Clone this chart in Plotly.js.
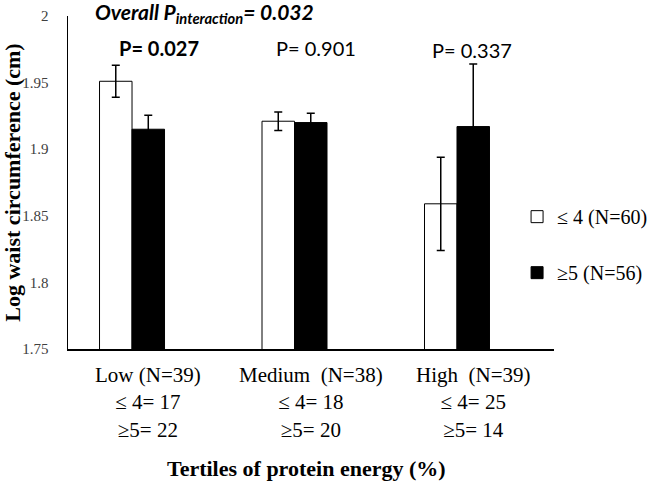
<!DOCTYPE html>
<html><head><meta charset="utf-8">
<script src="https://cdn.plot.ly/plotly-3.0.1.min.js"></script>
<style>html,body{margin:0;padding:0;background:#fff}</style>
</head><body><div id="chart" style="width:652px;height:484px"></div>
<script>
const categories = ["Low (N=39)", "Medium\u00a0 (N=38)", "High\u00a0 (N=39)"];
const countLow = ["≤ 4= 17", "≤ 4= 18", "≤ 4= 25"];
const countHigh = ["≥5= 22", "≥5= 20", "≥5= 14"];
const seriesNames = ["≤ 4 (N=60)", "≥5 (N=56)"];
const lowMeans = [1.951, 1.921, 1.859];
const lowErrors = [0.012, 0.007, 0.035];
const highMeans = [1.915, 1.920, 1.917];
const highErrors = [0.0105, 0.007, 0.047];
const pValues = ["P= 0.027", "P= 0.901", "P= 0.337"];
const pBold = [true, false, false];
const yTicks = [1.75, 1.8, 1.85, 1.9, 1.95, 2];
const interactionP = "0.032";

const xs = categories.map((c, i) => i);
const serif = "Liberation Serif, Times New Roman, serif";
const sans = "Lato, Open Sans, sans-serif";

const traces = [
  {type: "bar", x: xs, y: lowMeans, name: seriesNames[0], legendgroup: "a",
   marker: {color: "#ffffff", line: {color: "#000000", width: 1}},
   error_y: {type: "data", array: lowErrors, visible: true, color: "#000000", thickness: 1.5, width: 4}},
  {type: "bar", x: xs, y: highMeans, name: seriesNames[1], legendgroup: "b",
   marker: {color: "#000000", line: {color: "#000000", width: 1}},
   error_y: {type: "data", array: highErrors, visible: true, color: "#000000", thickness: 1.5, width: 4}}
];

const annotations = [];
const pOffsets = [0.165, 0.13, 0.095];
const pY = [0.905, 0.905, 0.899];
pValues.forEach((p, i) => {
  annotations.push({xref: "x", yref: "paper", x: xs[i] + pOffsets[i], y: pY[i], xanchor: "center", yanchor: "middle",
    text: pBold[i] ? "<b>" + p + "</b>" : p, showarrow: false,
    font: {family: sans, size: 20, color: "#000"}});
});
categories.forEach((c, i) => {
  annotations.push({xref: "x", yref: "paper", x: xs[i] + 0.1, y: 0, xanchor: "center", yanchor: "top", yshift: -12,
    text: c + "<br>" + countLow[i] + "<br>" + countHigh[i], showarrow: false,
    font: {family: serif, size: 21, color: "#000"}});
});
annotations.push({xref: "paper", yref: "paper", x: 0.49, y: -0.36, xanchor: "center", yanchor: "middle",
  text: "<b>Tertiles of protein energy (%)</b>", showarrow: false,
  font: {family: serif, size: 22, color: "#000"}});
annotations.push({xref: "paper", yref: "paper", x: 0.28, y: 1.008, xanchor: "center", yanchor: "middle",
  text: "<b><i>Overall P<sub>interaction</sub>= " + interactionP + "</i></b>", showarrow: false,
  font: {family: sans, size: 21, color: "#000"}});

const layout = {
  width: 652, height: 484,
  margin: {l: 68, r: 98, t: 16, b: 135, autoexpand: false},
  paper_bgcolor: "#fff", plot_bgcolor: "#fff",
  barmode: "group", bargap: 0.6, bargroupgap: 0,
  showlegend: true,
  legend: {x: 0.924, xanchor: "left", y: 0.456, yanchor: "top", traceorder: "grouped",
    tracegroupgap: 27, font: {family: serif, size: 20, color: "#000"}, bgcolor: "rgba(0,0,0,0)"},
  xaxis: {range: [-0.394, 2.597], showticklabels: false, ticks: "", showgrid: false, zeroline: false,
    showline: true, linecolor: "#000", linewidth: 1.5, fixedrange: true},
  yaxis: {range: [1.75, 2.0], tickvals: yTicks, ticks: "", showgrid: false, zeroline: false,
    showline: true, linecolor: "#000", linewidth: 1.5, ticklabelstandoff: 15,
    tickfont: {family: serif, size: 15, color: "#404040"},
    title: {text: "<b>Log waist circumference (cm)</b>", font: {family: serif, size: 22, color: "#000"}}},
  annotations: annotations
};
Plotly.newPlot("chart", traces, layout, {displayModeBar: false, staticPlot: true});
</script></body></html>
